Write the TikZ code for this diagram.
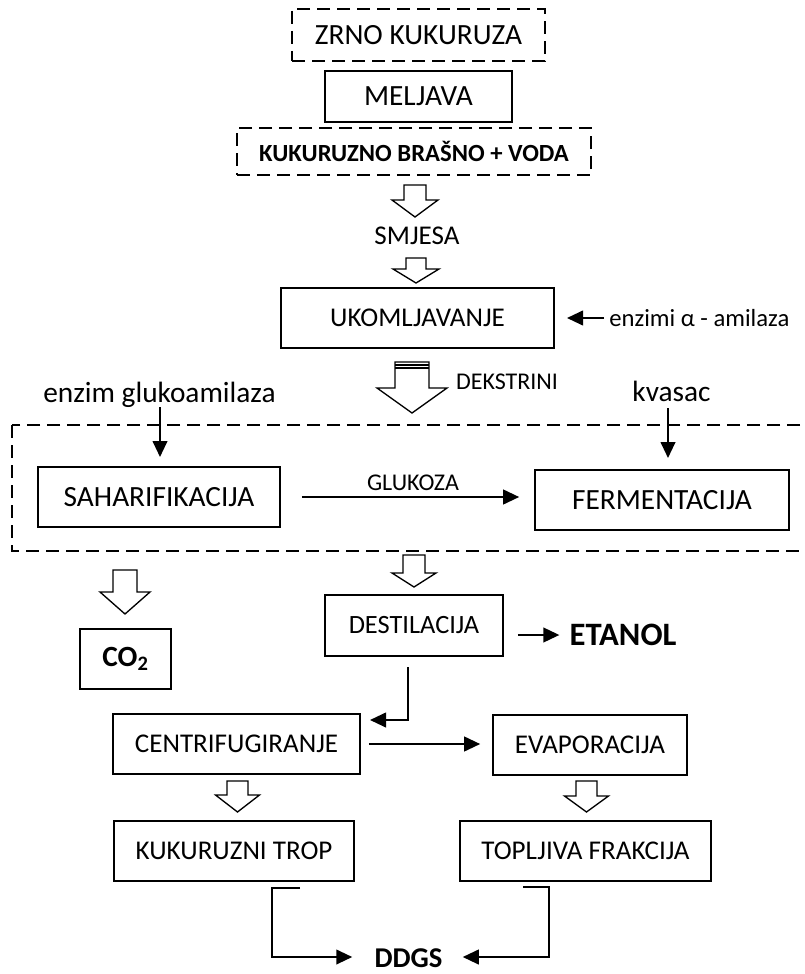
\documentclass[tikz,border=0pt]{standalone}
\usepackage{fontspec}
\setmainfont{Carlito}
\usetikzlibrary{arrows.meta}

\newcommand{\blockarrow}[6]{%
  \draw[hollow] ({#1-#5},#2) -- ({#1+#5},#2) -- ({#1+#5},#3) -- ({#1+#6},#3) -- (#1,#4) -- ({#1-#6},#3) -- ({#1-#5},#3) -- cycle;}

\begin{document}
\begin{tikzpicture}[x=0.75pt,y=-0.75pt,
    box/.style={draw,line width=1.2pt,inner sep=0pt},
    dbox/.style={box,dash pattern=on 10pt off 5pt},
    hollow/.style={draw,line width=1pt,fill=white},
    arr/.style={line width=1.5pt,-{Triangle[length=12pt,width=11pt]}},
    big/.style={font=\fontsize{22}{26}\selectfont},
    mid/.style={font=\fontsize{20.3}{24}\selectfont},
    lbl/.style={font=\fontsize{18}{22}\selectfont,inner sep=0pt}]
    \useasboundingbox (0,0) rectangle (805,974);

    \node[dbox,big,minimum width=189.75pt,minimum height=39pt] (zrno) at (418.5,35) {ZRNO KUKURUZA};
    \node[box,big,minimum width=140.25pt,minimum height=38.25pt] (meljava) at (418.5,96.5) {MELJAVA};
    \node[dbox,font=\bfseries\fontsize{18.5}{22}\selectfont,minimum width=265.5pt,minimum height=35.25pt] (brasno) at (414,151.5) {KUKURUZNO BRAŠNO + VODA};
    \blockarrow{415}{185}{200}{217}{11}{23}
    \node[mid,inner sep=0pt] (smjesa) at (417,236) {SMJESA};
    \blockarrow{416}{258}{269}{283}{10}{23}
    \node[box,mid,minimum width=204.75pt,minimum height=45pt] (ukom) at (417.5,318) {UKOMLJAVANJE};
    \node[font=\fontsize{18.5}{22}\selectfont,inner sep=0pt,anchor=west] (alfa) at (609,318) {enzimi α - amilaza};
    \coordinate (alfa1) at (567,318);
    \draw[arr] ([xshift=-3.75pt]alfa.west) -- (alfa1);

    \blockarrow{412}{362}{388}{413}{17}{35}
    \draw[line width=1pt] (395,365) -- (429,365) (395,368) -- (429,368);
    \node[lbl] (dekstrini) at (507,382) {DEKSTRINI};

    \node[big,inner sep=0pt,anchor=base] (gluko) at (159.5,402) {enzim glukoamilaza};
    \coordinate (g1) at (160,457);
    \draw[arr] (gluko.south -| g1) -- (g1);
    \node[big,inner sep=0pt,anchor=base] (kvasac) at (671.5,401) {kvasac};
    \coordinate (k1) at (668,458);
    \draw[arr,shorten <=5pt] (kvasac.south -| k1) -- (k1);

    \draw[line width=1.2pt,dash pattern=on 10pt off 5pt] (12,425) rectangle (810,551);
    \node[box,big,minimum width=181.5pt,minimum height=45pt] (saha) at (159,497) {SAHARIFIKACIJA};
    \node[box,big,minimum width=190.5pt,minimum height=45pt] (ferm) at (662,500) {FERMENTACIJA};
    \node[lbl] (glukoza) at (413,483) {GLUKOZA};
    \draw[arr,shorten <=15.75pt,shorten >=11.25pt] (saha.east) -- (saha.east -| ferm.west);

    \blockarrow{414}{555}{573}{587}{11}{22}
    \blockarrow{125}{570}{592}{614}{12}{25}
    \node[box,font=\bfseries\fontsize{22}{26}\selectfont,minimum width=68.25pt,minimum height=45pt] (co2) at (125.5,659) {CO\textsubscript{2}};
    \node[box,font=\fontsize{19.8}{23}\selectfont,minimum width=133.5pt,minimum height=45.75pt] (dest) at (414,625.5) {DESTILACIJA};
    \node[font=\bfseries\fontsize{24.5}{28}\selectfont,inner sep=0pt] (etanol) at (623,635) {ETANOL};
    \draw[arr,shorten <=10.5pt,shorten >=7.5pt] (dest.east |- etanol) -- (etanol.west);

    \coordinate (d1) at (408,667);
    \coordinate (c1) at (370,720);
    \draw[arr] (d1) |- (c1);
    \node[box,mid,minimum width=185.25pt,minimum height=45pt] (centri) at (236.5,744) {CENTRIFUGIRANJE};
    \node[box,mid,minimum width=145.5pt,minimum height=45pt] (evap) at (590,745) {EVAPORACIJA};
    \draw[arr,shorten <=6pt,shorten >=9pt] (centri.east) -- (centri.east -| evap.west);

    \blockarrow{237.5}{781}{795}{812}{10.5}{22}
    \blockarrow{586.5}{781}{796}{812}{10.5}{22}
    \node[box,mid,minimum width=180pt,minimum height=45pt] (trop) at (234,851) {KUKURUZNI TROP};
    \node[box,mid,minimum width=188.25pt,minimum height=45pt] (toplj) at (585.5,851) {TOPLJIVA FRAKCIJA};

    \node[font=\bfseries\fontsize{21.5}{25}\selectfont,inner sep=0pt] (ddgs) at (408.5,958) {DDGS};
    \coordinate (t1) at (300,888);
    \coordinate (t2) at (272,957);
    \draw[arr,shorten >=16.5pt] (t1) -| (t2) -- (t2 -| ddgs.west);
    \coordinate (f1) at (523,887);
    \coordinate (f2) at (549,957);
    \draw[arr,shorten >=15pt] (f1) -| (f2) -- (f2 -| ddgs.east);
\end{tikzpicture}
\end{document}
